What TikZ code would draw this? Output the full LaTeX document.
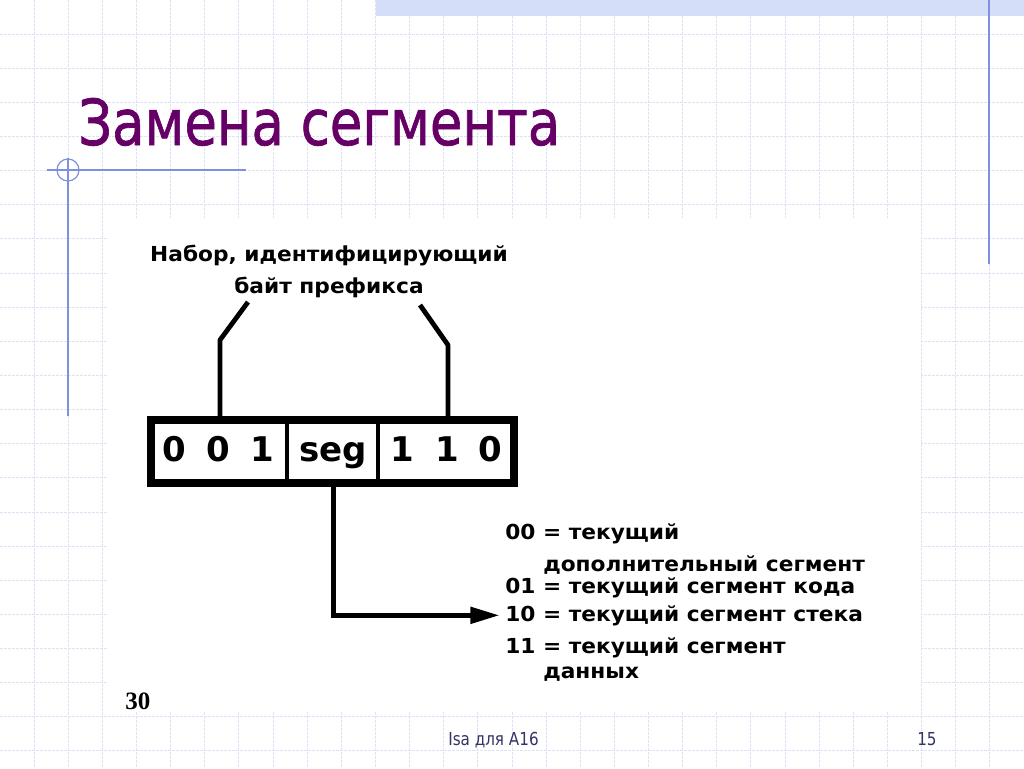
\documentclass[tikz,border=0pt]{standalone}
\usepackage{fontspec}
\usepackage{graphicx}
\usetikzlibrary{arrows.meta,calc}
\newfontfamily\tahoma[FakeStretch=0.85]{DejaVu Sans}
\newfontfamily\titlefont[FakeBold=1.2]{DejaVu Sans}
\newfontfamily\scanfont[FakeStretch=1.05]{DejaVu Sans}
\newfontfamily\cellfont{DejaVu Sans}
\newfontfamily\serifb{Liberation Serif}
\definecolor{gridc}{RGB}{224,227,245}
\definecolor{barc}{RGB}{212,222,248}
\definecolor{decoc}{RGB}{128,144,224}
\definecolor{titlec}{RGB}{102,0,102}
\definecolor{footc}{RGB}{51,51,102}
\tikzset{
  gridline/.style={gridc, line width=0.75pt, dash pattern=on 2.25pt off 0.75pt},
  deco/.style={decoc, line width=0.9pt},
  scan/.style={font=\scanfont\bfseries\fontsize{15.5pt}{18pt}\selectfont, inner sep=0, anchor=base west},
  lbltext/.style={font=\scanfont\bfseries\fontsize{15.5pt}{18pt}\selectfont, inner sep=0, anchor=base},
  cell/.style={font=\cellfont\bfseries\fontsize{25.5pt}{30pt}\selectfont, inner sep=0, anchor=base},
  bracket/.style={line width=3.6pt, line join=round},
  footer/.style={font=\tahoma\fontsize{13.4pt}{16pt}\selectfont, text=footc, inner sep=0, anchor=base west}
}
\begin{document}
\begin{tikzpicture}[x=0.75pt,y=-0.75pt]
\useasboundingbox (0,0) rectangle (1024,768);
\fill[white] (0,0) rectangle (1024,768);
% grid
\foreach \i in {1,...,29} \draw[gridline] (\i*34.133,0) -- (\i*34.133,768);
\foreach \j in {1,...,22} \draw[gridline] (0,\j*34.133) -- (1024,\j*34.133);
% top bar and decorations
\fill[barc] (376,0) rectangle (1024,16);
\draw[decoc, line width=1.5pt] (989,0) -- (989,264);
\draw[deco] (47,170) -- (246,170);
\draw[deco] (68,158) -- (68,416);
\draw[deco] (68,170) circle[radius=8.25pt];
% image area
\fill[white] (108,218) rectangle (921,711);
% title
\node[anchor=base west, inner sep=0, text=titlec] (title) at (78,145)
  {\resizebox{361.5pt}{35.25pt}{\titlefont Замена сегмента}};
% footer
\node[footer] (foot) at (448,745) {Isa для A16};
\node[footer] (page) at (917,745) {15};
% label
\node[lbltext] (lbl1) at (329,261) {Набор, идентифицирующий};
\node[lbltext] (lbl2) at (329,293) {байт префикса};
\coordinate (bl) at (248,302);
\coordinate (br) at (420,305);
% frame
\node[draw, line width=5.6pt, minimum width=272.25pt, minimum height=47.25pt, inner sep=0] (frame) at (332.5,451.5) {};
\draw[line width=3.5pt] (287,0 |- frame.north) -- (287,0 |- frame.south);
\draw[line width=3.5pt] (378,0 |- frame.north) -- (378,0 |- frame.south);
\draw[bracket] (bl) -- (220,340) -- (220,0 |- frame.north);
\draw[bracket] (br) -- (448,345) -- (448,0 |- frame.north);
% cells
\node[cell] (c1) at (218,461) {0\hspace{0.6em}0\hspace{0.6em}1};
\node[cell] (seg) at (333,461) {seg};
\node[cell] (c3) at (446,461) {1\hspace{0.65em}1\hspace{0.55em}0};
% legend
\node[scan] (l00) at (505,539) {00 = текущий};
\node[scan] (l00b) at (543,571) {дополнительный сегмент};
\node[scan] (l01) at (505,593) {01 = текущий сегмент кода};
\node[scan] (l10) at (505,621) {10 = текущий сегмент стека};
\node[scan] (l11) at (505,653) {11 = текущий сегмент};
\node[scan] (l11b) at (543,678) {данных};
% arrow
\draw[line width=3.75pt, -{Triangle[length=22pt,width=12pt]}, shorten >=4pt]
  (seg.south |- frame.south) -- (seg.south |- l10.west) -- (l10.west);
% figure number
\node[font=\serifb\bfseries\fontsize{18.75pt}{20pt}\selectfont, inner sep=0, anchor=base west] (num) at (125,709) {30};
\end{tikzpicture}
\end{document}
